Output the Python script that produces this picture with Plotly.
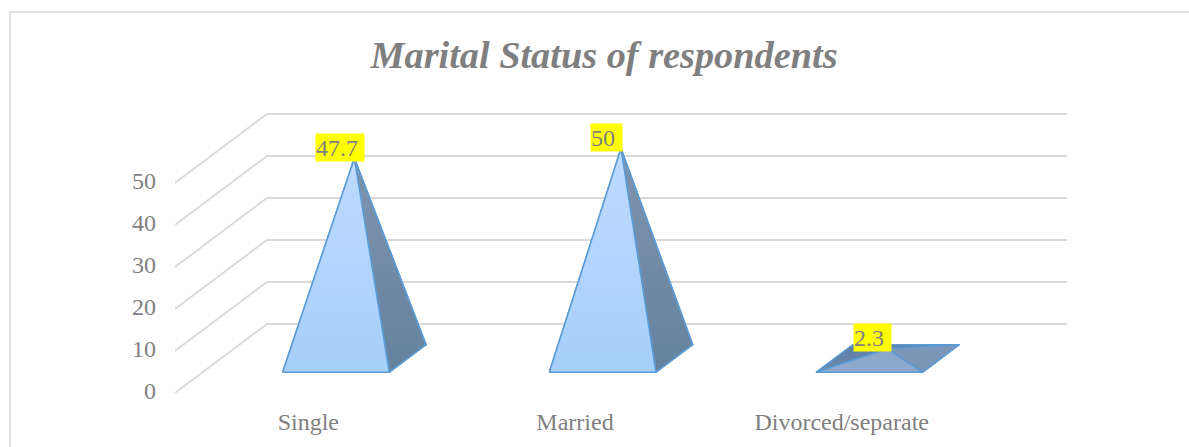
import plotly.graph_objects as go

# ---- data ----
categories = ["Single", "Married", "Divorced/separate"]
values = [47.7, 50, 2.3]
value_labels = ["47.7", "50", "2.3"]
y_ticks = [0, 10, 20, 30, 40, 50]
title_text = "Marital Status of respondents"

# ---- oblique projection of the 3-D chart, in axis units ----
DEPTH_X = 0.345      # category units for full floor depth
DEPTH_Y = 16.43      # value units for full floor depth
FRONT, BACK = 0.3, 0.7
HALF_W = 0.2


def proj(cat, val, depth):
    return cat + depth * DEPTH_X, val + depth * DEPTH_Y


GRID = "#D9D9D9"
EDGE = "#5B9BD5"
TEXT = "#7F7F7F"
FONT = "Liberation Serif"

# face colours (top, bottom) for tall and for flat pyramids
TALL = dict(front=("#BDDAFF", "#A6CFFB"), right=("#8094AE", "#64829F"),
            left=("#6B88AA", "#6B88AA"), back=("#6B88AA", "#6B88AA"))
FLAT = dict(front=("#8AA7CC", "#8FAACB"), right=("#7D97B8", "#7A94B5"),
            left=("#5F80A8", "#6888AC"), back=("#5F80A8", "#5F80A8"))

# per-label box offsets from the apex, px
LABEL_DX = [11, 2, 4]
LABEL_W = [48, 31, 37]

fig = go.Figure()

# gridlines: front-left -> back wall -> right
for t in y_ticks:
    p0 = proj(-0.5, t, 0)
    p1 = proj(-0.5, t, 1)
    p2 = proj(2.5, t, 1)
    fig.add_trace(go.Scatter(x=[p0[0], p1[0], p2[0]], y=[p0[1], p1[1], p2[1]],
                             mode="lines", line=dict(color=GRID, width=1.8),
                             hoverinfo="skip", showlegend=False))


def face(points, colors):
    xs = [p[0] for p in points] + [points[0][0]]
    ys = [p[1] for p in points] + [points[0][1]]
    fig.add_trace(go.Scatter(
        x=xs, y=ys, mode="lines", fill="toself",
        line=dict(color=EDGE, width=1.5),
        fillgradient=dict(type="vertical",
                          colorscale=[[0, colors[1]], [1, colors[0]]]),
        hoverinfo="skip", showlegend=False))


for i, v in enumerate(values):
    style = FLAT if v < 10 else TALL
    fl = proj(i - HALF_W, 0, FRONT)
    fr = proj(i + HALF_W, 0, FRONT)
    bl = proj(i - HALF_W, 0, BACK)
    br = proj(i + HALF_W, 0, BACK)
    apex = proj(i, v, (FRONT + BACK) / 2)
    face([bl, apex, br], style["back"])
    face([fl, apex, bl], style["left"])
    face([fr, apex, br], style["right"])
    face([fl, apex, fr], style["front"])
    fig.add_annotation(x=apex[0], y=apex[1], text=value_labels[i],
                       xanchor="right", yanchor="bottom", xshift=LABEL_DX[i], yshift=-3.5,
                       showarrow=False, bgcolor="#FFFF00", borderpad=0, align="left",
                       width=LABEL_W[i], height=27,
                       font=dict(family=FONT, size=24, color=TEXT))

fig.update_layout(
    width=1189, height=447, autosize=False,
    margin=dict(l=175, r=122, t=100, b=54),
    paper_bgcolor="white", plot_bgcolor="white", showlegend=False,
    title=dict(text="<b><i>" + title_text + "</i></b>", x=604 / 1189, xanchor="center",
               y=1 - 55 / 447, yanchor="middle",
               font=dict(family=FONT, size=38.3, color=TEXT)),
    xaxis=dict(range=[-0.5, 2.845], tickvals=list(range(len(categories))), ticktext=categories,
               showgrid=False, zeroline=False, showline=False, ticks="",
               ticklabelstandoff=12, tickfont=dict(family=FONT, size=24, color=TEXT)),
    yaxis=dict(range=[0, 69.76], tickvals=y_ticks, showgrid=False, zeroline=False, showline=False,
               ticks="", ticklabelstandoff=18, ticklabelshift=-2,
               tickfont=dict(family=FONT, size=24, color=TEXT)),
    shapes=[
        dict(type="line", xref="paper", yref="paper", x0=-165 / 892, x1=1014 / 892,
             y0=1 - (12 - 100) / 293, y1=1 - (12 - 100) / 293, line=dict(color=GRID, width=1.5)),
        dict(type="line", xref="paper", yref="paper", x0=-165 / 892, x1=-165 / 892,
             y0=1 - (12 - 100) / 293, y1=1 - (447 - 100) / 293, line=dict(color=GRID, width=1.5)),
    ],
)

fig.write_html("out.html", config=dict(displayModeBar=False),
               post_script="document.body.style.margin='0';document.body.style.overflow='hidden';")
